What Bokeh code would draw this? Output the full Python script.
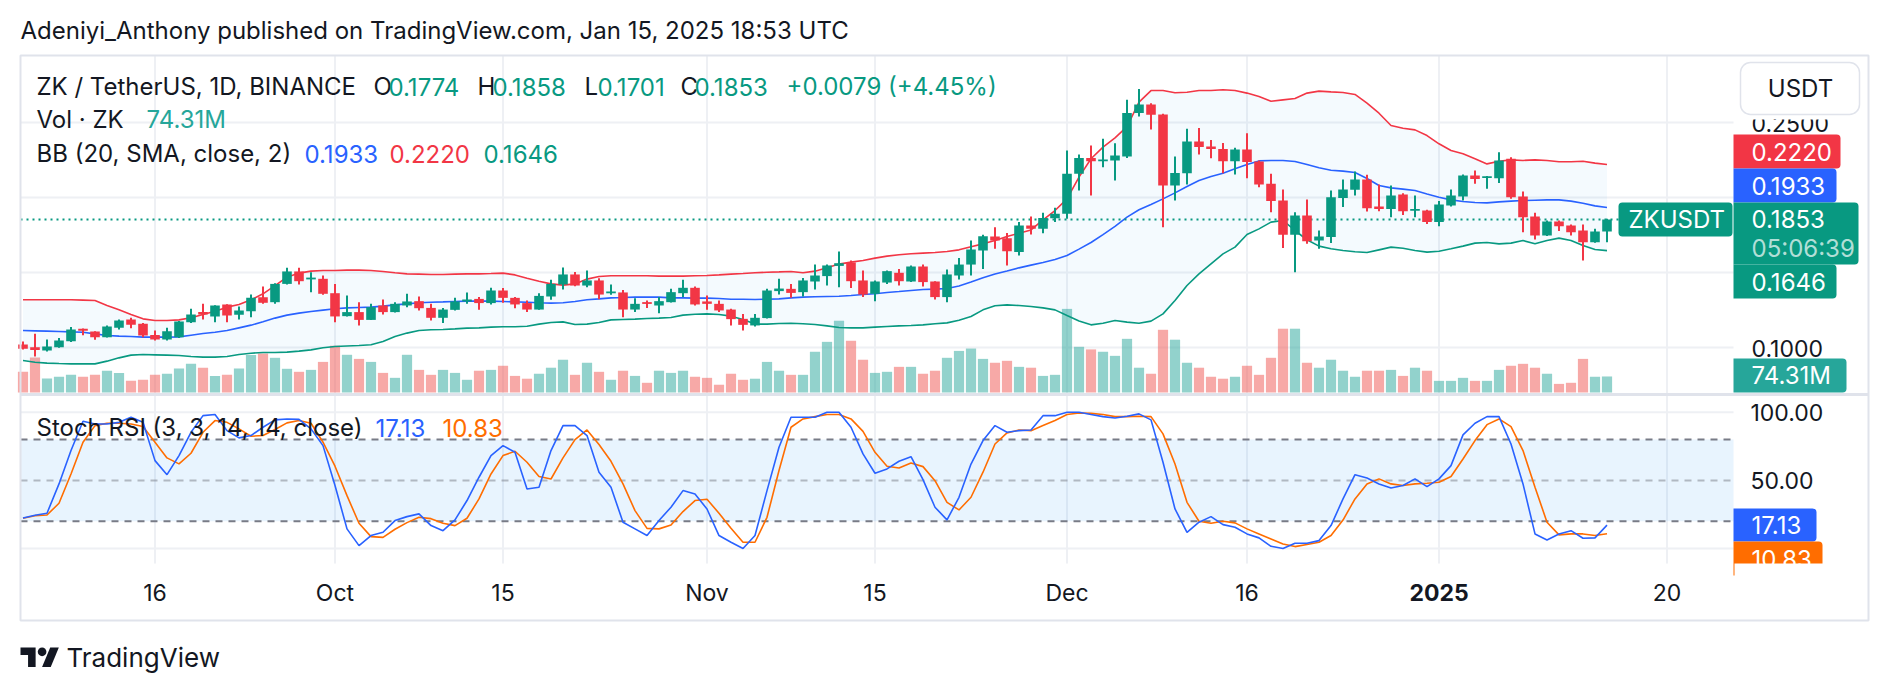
import numpy as np
import pandas as pd
from bokeh.plotting import figure
from bokeh.models import Range1d
from bokeh.core.properties import value
from bokeh.embed import file_html
from bokeh.resources import INLINE

# ---------------- data ----------------
dates = pd.date_range("2024-09-05", "2025-01-15", freq="D")

opens = [0.1020, 0.1002, 0.0980, 0.1002, 0.1042, 0.1124, 0.1107, 0.1069, 0.1131, 0.1187,
         0.1158, 0.1084, 0.1053, 0.1069, 0.1169, 0.1236, 0.1207, 0.1287, 0.1218, 0.1242,
         0.1335, 0.1302, 0.1424, 0.1507, 0.1456, 0.1458, 0.1362, 0.1209, 0.1236, 0.1184,
         0.1280, 0.1236, 0.1280, 0.1309, 0.1264, 0.1198, 0.1251, 0.1307, 0.1324, 0.1296,
         0.1380, 0.1331, 0.1296, 0.1253, 0.1340, 0.1420, 0.1487, 0.1413, 0.1447, 0.1362,
         0.1367, 0.1253, 0.1302, 0.1280, 0.1302, 0.1362, 0.1398, 0.1307, 0.1291, 0.1253,
         0.1191, 0.1147, 0.1196, 0.1376, 0.1391, 0.1369, 0.1440, 0.1476, 0.1544, 0.1567,
         0.1447, 0.1358, 0.1433, 0.1498, 0.1440, 0.1540, 0.1440, 0.1336, 0.1480, 0.1553,
         0.1647, 0.1740, 0.1729, 0.1636, 0.1813, 0.1791, 0.1862, 0.1891, 0.2158, 0.2264,
         0.2242, 0.2247, 0.2273, 0.2564, 0.2620, 0.2553, 0.2080, 0.2162, 0.2373, 0.2340,
         0.2324, 0.2242, 0.2320, 0.2240, 0.2091, 0.1980, 0.1751, 0.1880, 0.1713, 0.1736,
         0.1996, 0.2051, 0.2120, 0.1940, 0.1924, 0.2020, 0.1913, 0.1913, 0.1836, 0.1947,
         0.2007, 0.2147, 0.2131, 0.2129, 0.2258, 0.2007, 0.1873, 0.1747, 0.1840, 0.1813,
         0.1780, 0.1702, 0.1774]

highs = [0.1040, 0.1091, 0.1053, 0.1063, 0.1136, 0.1127, 0.1109, 0.1147, 0.1187, 0.1198,
         0.1164, 0.1113, 0.1131, 0.1176, 0.1258, 0.1291, 0.1282, 0.1289, 0.1273, 0.1353,
         0.1407, 0.1429, 0.1531, 0.1531, 0.1502, 0.1480, 0.1424, 0.1347, 0.1302, 0.1291,
         0.1320, 0.1302, 0.1358, 0.1340, 0.1291, 0.1264, 0.1331, 0.1367, 0.1336, 0.1398,
         0.1396, 0.1336, 0.1313, 0.1362, 0.1451, 0.1533, 0.1504, 0.1513, 0.1462, 0.1420,
         0.1384, 0.1329, 0.1313, 0.1336, 0.1391, 0.1451, 0.1407, 0.1347, 0.1313, 0.1258,
         0.1224, 0.1224, 0.1391, 0.1458, 0.1424, 0.1464, 0.1553, 0.1553, 0.1640, 0.1580,
         0.1513, 0.1447, 0.1513, 0.1524, 0.1547, 0.1553, 0.1442, 0.1520, 0.1596, 0.1713,
         0.1751, 0.1802, 0.1764, 0.1836, 0.1873, 0.1898, 0.1931, 0.2313, 0.2287, 0.2347,
         0.2391, 0.2362, 0.2651, 0.2724, 0.2629, 0.2558, 0.2273, 0.2458, 0.2464, 0.2384,
         0.2364, 0.2331, 0.2429, 0.2247, 0.2158, 0.2053, 0.1902, 0.1987, 0.1780, 0.2047,
         0.2120, 0.2173, 0.2151, 0.2087, 0.2080, 0.2029, 0.2013, 0.1918, 0.1976, 0.2053,
         0.2153, 0.2180, 0.2144, 0.2302, 0.2269, 0.2040, 0.1898, 0.1847, 0.1847, 0.1820,
         0.1820, 0.1791, 0.1858]

lows = [0.0987, 0.0940, 0.0973, 0.0998, 0.1036, 0.1082, 0.1051, 0.1067, 0.1120, 0.1129,
        0.1069, 0.1047, 0.1047, 0.1064, 0.1164, 0.1187, 0.1169, 0.1169, 0.1187, 0.1202,
        0.1291, 0.1291, 0.1420, 0.1420, 0.1369, 0.1351, 0.1169, 0.1207, 0.1147, 0.1184,
        0.1220, 0.1233, 0.1269, 0.1247, 0.1180, 0.1164, 0.1247, 0.1291, 0.1251, 0.1287,
        0.1298, 0.1262, 0.1236, 0.1251, 0.1318, 0.1387, 0.1409, 0.1402, 0.1322, 0.1351,
        0.1202, 0.1236, 0.1264, 0.1229, 0.1300, 0.1336, 0.1280, 0.1251, 0.1236, 0.1147,
        0.1113, 0.1140, 0.1193, 0.1353, 0.1331, 0.1340, 0.1387, 0.1413, 0.1402, 0.1396,
        0.1336, 0.1309, 0.1424, 0.1413, 0.1436, 0.1407, 0.1320, 0.1302, 0.1453, 0.1480,
        0.1524, 0.1658, 0.1547, 0.1613, 0.1753, 0.1762, 0.1836, 0.1858, 0.2047, 0.2013,
        0.2202, 0.2113, 0.2264, 0.2540, 0.2453, 0.1802, 0.1980, 0.2087, 0.2287, 0.2262,
        0.2162, 0.2153, 0.2129, 0.2069, 0.1902, 0.1664, 0.1502, 0.1691, 0.1658, 0.1696,
        0.1936, 0.2013, 0.1907, 0.1909, 0.1869, 0.1884, 0.1869, 0.1824, 0.1809, 0.1940,
        0.1980, 0.2091, 0.2058, 0.2096, 0.1991, 0.1769, 0.1720, 0.1744, 0.1776, 0.1747,
        0.1580, 0.1698, 0.1701]

closes = [0.0991, 0.0984, 0.1007, 0.1047, 0.1120, 0.1113, 0.1069, 0.1140, 0.1180, 0.1151,
          0.1080, 0.1053, 0.1109, 0.1173, 0.1220, 0.1220, 0.1280, 0.1213, 0.1247, 0.1331,
          0.1298, 0.1424, 0.1507, 0.1442, 0.1464, 0.1358, 0.1207, 0.1236, 0.1184, 0.1269,
          0.1236, 0.1291, 0.1307, 0.1262, 0.1198, 0.1253, 0.1307, 0.1320, 0.1296, 0.1380,
          0.1331, 0.1287, 0.1253, 0.1344, 0.1424, 0.1487, 0.1413, 0.1447, 0.1353, 0.1373,
          0.1253, 0.1291, 0.1291, 0.1309, 0.1369, 0.1398, 0.1287, 0.1291, 0.1247, 0.1189,
          0.1151, 0.1198, 0.1380, 0.1393, 0.1364, 0.1447, 0.1480, 0.1547, 0.1562, 0.1442,
          0.1353, 0.1440, 0.1509, 0.1442, 0.1540, 0.1436, 0.1336, 0.1487, 0.1553, 0.1653,
          0.1742, 0.1713, 0.1642, 0.1813, 0.1791, 0.1864, 0.1891, 0.2158, 0.2264, 0.2242,
          0.2253, 0.2280, 0.2564, 0.2620, 0.2551, 0.2080, 0.2164, 0.2373, 0.2336, 0.2324,
          0.2242, 0.2320, 0.2236, 0.2087, 0.1976, 0.1751, 0.1880, 0.1709, 0.1740, 0.2002,
          0.2053, 0.2120, 0.1929, 0.1924, 0.2013, 0.1909, 0.1922, 0.1836, 0.1953, 0.2013,
          0.2147, 0.2124, 0.2140, 0.2247, 0.2002, 0.1869, 0.1747, 0.1840, 0.1809, 0.1769,
          0.1702, 0.1774, 0.1853]

volume_m = [96, 162, 65, 73, 82, 73, 82, 101, 91, 54,
            59, 82, 87, 111, 133, 115, 77, 82, 111, 174,
            181, 161, 110, 96, 105, 142, 217, 175, 156, 142,
            91, 68, 175, 105, 82, 105, 91, 59, 101, 105,
            124, 77, 64, 87, 115, 152, 82, 138, 96, 59,
            101, 77, 45, 101, 91, 101, 73, 68, 36, 87,
            59, 64, 142, 101, 82, 82, 189, 235, 333, 240,
            152, 91, 96, 119, 119, 87, 101, 161, 193, 204,
            156, 138, 147, 119, 115, 77, 82, 388, 212, 200,
            189, 170, 249, 115, 87, 291, 245, 138, 115, 73,
            64, 73, 124, 82, 161, 296, 296, 138, 115, 152,
            101, 73, 101, 101, 105, 77, 115, 101, 54, 54,
            68, 54, 54, 105, 124, 133, 115, 87, 40, 45,
            156, 73, 74.31]

bb_upper = [0.1318, 0.1318, 0.1318, 0.1318, 0.1318, 0.1316, 0.1313, 0.1280, 0.1251, 0.1220,
            0.1191, 0.1180, 0.1180, 0.1184, 0.1198, 0.1220, 0.1242, 0.1269, 0.1287, 0.1318,
            0.1358, 0.1413, 0.1469, 0.1496, 0.1509, 0.1513, 0.1513, 0.1516, 0.1516, 0.1513,
            0.1507, 0.1498, 0.1491, 0.1489, 0.1487, 0.1487, 0.1489, 0.1491, 0.1491, 0.1493,
            0.1496, 0.1484, 0.1462, 0.1442, 0.1424, 0.1416, 0.1424, 0.1456, 0.1473, 0.1478,
            0.1478, 0.1478, 0.1478, 0.1476, 0.1476, 0.1476, 0.1478, 0.1480, 0.1484, 0.1489,
            0.1493, 0.1498, 0.1502, 0.1504, 0.1507, 0.1498, 0.1509, 0.1531, 0.1556, 0.1569,
            0.1580, 0.1596, 0.1609, 0.1618, 0.1625, 0.1629, 0.1633, 0.1640, 0.1651, 0.1672,
            0.1691, 0.1713, 0.1740, 0.1762, 0.1784, 0.1851, 0.1913, 0.1991, 0.2136, 0.2258,
            0.2336, 0.2398, 0.2473, 0.2636, 0.2713, 0.2713, 0.2698, 0.2702, 0.2713, 0.2713,
            0.2718, 0.2713, 0.2696, 0.2673, 0.2642, 0.2651, 0.2660, 0.2696, 0.2709, 0.2704,
            0.2700, 0.2687, 0.2629, 0.2562, 0.2480, 0.2462, 0.2451, 0.2413, 0.2358, 0.2313,
            0.2291, 0.2258, 0.2224, 0.2242, 0.2251, 0.2247, 0.2251, 0.2247, 0.2238, 0.2238,
            0.2242, 0.2229, 0.2220]

bb_basis = [0.1113, 0.1111, 0.1109, 0.1107, 0.1104, 0.1102, 0.1091, 0.1080, 0.1076, 0.1073,
            0.1069, 0.1069, 0.1069, 0.1071, 0.1082, 0.1093, 0.1102, 0.1113, 0.1131, 0.1149,
            0.1171, 0.1196, 0.1216, 0.1229, 0.1240, 0.1249, 0.1258, 0.1264, 0.1267, 0.1269,
            0.1276, 0.1284, 0.1291, 0.1298, 0.1302, 0.1304, 0.1307, 0.1309, 0.1309, 0.1309,
            0.1307, 0.1304, 0.1302, 0.1298, 0.1296, 0.1298, 0.1307, 0.1318, 0.1324, 0.1331,
            0.1333, 0.1336, 0.1336, 0.1336, 0.1331, 0.1331, 0.1329, 0.1329, 0.1327, 0.1322,
            0.1322, 0.1320, 0.1322, 0.1324, 0.1331, 0.1336, 0.1338, 0.1340, 0.1342, 0.1347,
            0.1353, 0.1358, 0.1367, 0.1373, 0.1380, 0.1387, 0.1389, 0.1393, 0.1410, 0.1436,
            0.1465, 0.1490, 0.1510, 0.1531, 0.1549, 0.1567, 0.1587, 0.1613, 0.1656, 0.1700,
            0.1753, 0.1807, 0.1869, 0.1918, 0.1953, 0.1991, 0.2031, 0.2073, 0.2113, 0.2140,
            0.2162, 0.2191, 0.2220, 0.2244, 0.2247, 0.2247, 0.2240, 0.2220, 0.2198, 0.2182,
            0.2176, 0.2167, 0.2127, 0.2080, 0.2064, 0.2056, 0.2047, 0.2024, 0.2002, 0.1984,
            0.1973, 0.1967, 0.1964, 0.1971, 0.1976, 0.1980, 0.1982, 0.1984, 0.1984, 0.1976,
            0.1962, 0.1944, 0.1933]

bb_lower = [0.0913, 0.0902, 0.0896, 0.0893, 0.0891, 0.0891, 0.0891, 0.0909, 0.0931, 0.0949,
            0.0953, 0.0951, 0.0949, 0.0947, 0.0940, 0.0936, 0.0936, 0.0940, 0.0953, 0.0962,
            0.0967, 0.0967, 0.0969, 0.0976, 0.0984, 0.0998, 0.1007, 0.1010, 0.1013, 0.1018,
            0.1040, 0.1073, 0.1096, 0.1113, 0.1118, 0.1120, 0.1124, 0.1129, 0.1131, 0.1136,
            0.1138, 0.1138, 0.1142, 0.1156, 0.1167, 0.1171, 0.1153, 0.1156, 0.1167, 0.1184,
            0.1187, 0.1189, 0.1193, 0.1196, 0.1200, 0.1216, 0.1222, 0.1224, 0.1220, 0.1209,
            0.1187, 0.1156, 0.1156, 0.1160, 0.1162, 0.1158, 0.1153, 0.1144, 0.1133, 0.1131,
            0.1131, 0.1136, 0.1140, 0.1144, 0.1147, 0.1151, 0.1158, 0.1164, 0.1182, 0.1207,
            0.1251, 0.1278, 0.1284, 0.1280, 0.1273, 0.1264, 0.1251, 0.1213, 0.1176, 0.1151,
            0.1162, 0.1180, 0.1169, 0.1162, 0.1176, 0.1224, 0.1313, 0.1413, 0.1491, 0.1558,
            0.1624, 0.1669, 0.1753, 0.1791, 0.1836, 0.1847, 0.1780, 0.1718, 0.1676, 0.1658,
            0.1647, 0.1638, 0.1633, 0.1651, 0.1669, 0.1662, 0.1647, 0.1636, 0.1642, 0.1658,
            0.1676, 0.1696, 0.1700, 0.1691, 0.1696, 0.1713, 0.1691, 0.1713, 0.1729, 0.1713,
            0.1680, 0.1653, 0.1646]

stoch_k = [22.4, 24.4, 25.9, 47.4, 71.9, 93.4, 91.4, 91.4, 92.6, 96.3,
           92.6, 64.5, 54.2, 68.2, 85.3, 97.5, 98.3, 86.5, 81.2, 82.9,
           89.0, 94.4, 95.1, 94.8, 87.8, 75.5, 46.2, 14.4, 2.1, 9.5,
           11.9, 20.5, 23.4, 25.4, 16.8, 13.1, 21.0, 35.2, 52.3, 68.2,
           75.5, 70.6, 43.7, 44.9, 71.9, 90.2, 90.2, 82.9, 56.0, 45.0,
           19.3, 14.4, 9.5, 20.5, 30.3, 42.5, 40.0, 29.0, 9.5, 4.6,
           0.0, 9.5, 42.5, 74.3, 96.3, 96.3, 96.3, 100.0, 100.0, 89.0,
           69.4, 55.2, 58.4, 64.0, 67.4, 50.6, 30.3, 21.0, 37.6, 62.0,
           79.2, 90.2, 85.3, 86.5, 87.0, 97.5, 97.5, 100.0, 100.0, 98.3,
           96.8, 95.8, 97.1, 98.8, 94.4, 63.3, 29.0, 11.9, 19.3, 23.4,
           17.5, 15.6, 10.7, 7.8, 1.6, 0.0, 3.8, 3.8, 5.8, 16.8,
           36.4, 54.2, 51.8, 47.4, 44.4, 46.2, 51.1, 45.4, 51.1, 60.8,
           83.4, 91.9, 96.8, 96.8, 76.7, 47.4, 10.7, 6.3, 10.7, 13.1,
           7.5, 7.8, 17.13]

stoch_d = [22.2, 24.1, 24.6, 33.2, 54.7, 78.0, 90.2, 91.9, 91.9, 91.4,
           89.5, 78.0, 66.5, 62.1, 69.9, 85.3, 93.9, 92.6, 87.8, 82.4,
           82.9, 87.3, 92.2, 93.9, 91.9, 78.0, 60.4, 38.8, 18.5, 8.7,
           8.2, 14.1, 19.0, 22.9, 21.9, 18.5, 16.8, 22.2, 36.4, 54.7,
           68.2, 71.4, 63.3, 52.8, 51.0, 66.5, 79.9, 87.0, 76.3, 64.0,
           47.4, 27.8, 14.8, 14.4, 17.3, 27.1, 35.2, 36.1, 25.9, 14.8,
           4.6, 4.6, 22.9, 57.2, 89.0, 95.1, 96.8, 98.3, 98.3, 95.1,
           86.0, 70.6, 60.4, 59.1, 62.8, 60.1, 49.8, 33.9, 28.3, 37.6,
           56.0, 76.7, 84.8, 87.0, 86.5, 90.2, 93.9, 98.3, 99.5, 99.2,
           98.3, 96.8, 96.8, 97.1, 96.8, 84.1, 62.0, 33.9, 20.0, 18.5,
           20.0, 18.8, 14.4, 10.7, 7.0, 3.3, 1.4, 2.9, 4.6, 9.5,
           20.9, 36.4, 47.4, 51.1, 47.4, 46.2, 47.4, 47.9, 48.6, 52.8,
           65.7, 79.2, 90.9, 95.1, 89.5, 71.9, 45.0, 19.3, 10.0, 10.7,
           10.7, 9.5, 10.83]

tick_dates = ["2024-09-16", "2024-10-01", "2024-10-15", "2024-11-01", "2024-11-15",
              "2024-12-01", "2024-12-16", "2025-01-01", "2025-01-20"]
tick_labels = ["16", "Oct", "15", "Nov", "15", "Dec", "16", "2025", "20"]
price_grid = [0.10, 0.15, 0.20, 0.25]
price_labels = [0.10, 0.25]          # 0.15 / 0.20 are hidden behind the price tags
stoch_grid = [0, 100]
stoch_labels = [100, 50]
stoch_levels = [80, 50, 20]
countdown = "05:06:39"

for arr in (opens, highs, lows, closes, volume_m, bb_upper, bb_basis, bb_lower, stoch_k, stoch_d):
    assert len(arr) == len(dates)

# ---------------- layout / style ----------------
W, H = 1888, 690
FONT = "Inter"
TXT = "#131722"
UP, DOWN = "#089981", "#f23645"
BLUE, ORANGE = "#2962ff", "#ff6d00"
GRID = "#eef0f4"
BORDER = "#e0e3eb"

PANE_L, PANE_R, BOX_R = 20, 1733, 1868
BOX_T, SEP_Y, STOCH_B, BOX_B = 55, 394, 563, 620
X0PX, DAYPX = 22.5, 12.0
P_REF, P_REF_PX, P_PX = 0.25, 122.0, 1500.0
V_ZERO_PX, V_PER_PX = 392.0, 4.64
S_ZERO_PX, S_PX = 548.0, 1.3625


def xd(px):
    return (px - X0PX) / DAYPX


def yp(py):
    return P_REF - (py - P_REF_PX) / P_PX


def ypx(price):
    return P_REF_PX + (P_REF - price) * P_PX


p = figure(width=W, height=H, title=None,
           x_range=Range1d(xd(0), xd(W)), y_range=Range1d(yp(H), yp(0)),
           x_axis_type=None, y_axis_type=None, toolbar_location=None,
           output_backend="svg", min_border=0, outline_line_color=None,
           background_fill_color="white", border_fill_color="white")
p.extra_y_ranges = {
    "vol": Range1d(-(H - V_ZERO_PX) * V_PER_PX, V_ZERO_PX * V_PER_PX),
    "stoch": Range1d(-(H - S_ZERO_PX) / S_PX, S_ZERO_PX / S_PX),
}

x = np.array([(d - dates[0]).days for d in dates], dtype=float)
o = np.array(opens); h = np.array(highs); l = np.array(lows); c = np.array(closes)
inc = c >= o
col = np.where(inc, UP, DOWN)
vcol = np.where(inc, "#26a69a", "#ef5350")
tx = [(pd.Timestamp(d) - dates[0]).days for d in tick_dates]


def txt(px, py, s, color=TXT, size=24, align="left", style="normal", alpha=1.0):
    p.text(x=[xd(px)], y=[yp(py)], text=[s], text_color=color, text_alpha=alpha,
           text_font=value(FONT), text_font_size=f"{size}px", text_font_style=style,
           text_align=align, text_baseline="middle")


def box(x0, y0, x1, y1, fill, line=None, radius=0, lw=1):
    p.quad(left=[xd(x0)], right=[xd(x1)], top=[yp(y0)], bottom=[yp(y1)],
           fill_color=fill, line_color=line, line_width=lw, border_radius=radius)


# ---------------- grids ----------------
p.segment(x0=tx, x1=tx, y0=[yp(BOX_T)] * len(tx), y1=[yp(STOCH_B)] * len(tx),
          line_color=GRID, line_width=2)
p.segment(x0=[xd(PANE_L)] * 4, x1=[xd(PANE_R)] * 4, y0=price_grid, y1=price_grid,
          line_color=GRID, line_width=2)
p.segment(x0=[xd(PANE_L)] * 2, x1=[xd(PANE_R)] * 2, y0=stoch_grid, y1=stoch_grid,
          line_color=GRID, line_width=2, y_range_name="stoch")

# ---------------- stoch band ----------------
p.quad(left=[xd(PANE_L)], right=[xd(PANE_R)], bottom=[stoch_levels[2]], top=[stoch_levels[0]],
       fill_color="#2196f3", fill_alpha=0.10, line_color=None, y_range_name="stoch")
for lev, a in zip(stoch_levels, (1.0, 0.5, 1.0)):
    p.segment(x0=[xd(PANE_L)], x1=[xd(PANE_R)], y0=[lev], y1=[lev], line_color="#787b86",
              line_alpha=a, line_width=2, line_dash="7 6", y_range_name="stoch")

# ---------------- volume ----------------
p.vbar(x=x, top=volume_m, bottom=0, width=0.85, fill_color=vcol, fill_alpha=0.5,
       line_color=None, y_range_name="vol")

# ---------------- bollinger ----------------
p.varea(x=x, y1=bb_lower, y2=bb_upper, fill_color="#2196f3", fill_alpha=0.05)
p.line(x, bb_upper, line_color=DOWN, line_width=1.6)
p.line(x, bb_basis, line_color=BLUE, line_width=1.6)
p.line(x, bb_lower, line_color=UP, line_width=1.6)

# last price line
p.segment(x0=[xd(PANE_L)], x1=[xd(1618)], y0=[closes[-1]], y1=[closes[-1]],
          line_color=UP, line_width=2, line_dash="2 4")

# ---------------- candles ----------------
top = np.maximum(o, c); bot = np.minimum(o, c)
mid = (top + bot) / 2
thin = (top - bot) < 0.0012
top = np.where(thin, mid + 0.0006, top)
bot = np.where(thin, mid - 0.0006, bot)
p.segment(x0=x, x1=x, y0=l, y1=h, line_color=col, line_width=2)
p.vbar(x=x, top=top, bottom=bot, width=0.8, fill_color=col, line_color=None)

# ---------------- stoch lines ----------------
p.line(x, stoch_d, line_color=ORANGE, line_width=1.6, y_range_name="stoch")
p.line(x, stoch_k, line_color=BLUE, line_width=1.6, y_range_name="stoch")

# ---------------- frame ----------------
p.quad(left=[xd(PANE_L)], right=[xd(BOX_R)], top=[yp(BOX_T)], bottom=[yp(BOX_B)],
       fill_color=None, line_color=BORDER, line_width=2)
p.segment(x0=[xd(PANE_L)], x1=[xd(BOX_R)], y0=[yp(SEP_Y)], y1=[yp(SEP_Y)],
          line_color=BORDER, line_width=3)

# ---------------- header / legends ----------------
txt(20, 30, "Adeniyi_Anthony published on TradingView.com, Jan 15, 2025 18:53 UTC", size=24)

chg = closes[-1] - closes[-2]
pct = chg / closes[-2] * 100
txt(36, 86, "ZK / TetherUS, 1D, BINANCE")
txt(373, 86, "O"); txt(388, 86, f"{opens[-1]:.4f}", UP)
txt(477, 86, "H"); txt(492, 86, f"{highs[-1]:.4f}", UP)
txt(584, 86, "L"); txt(597, 86, f"{lows[-1]:.4f}", UP)
txt(680, 86, "C"); txt(694, 86, f"{closes[-1]:.4f}", UP)
txt(786, 86, f"{chg:+.4f} ({pct:+.2f}%)", UP)
txt(36, 119, "Vol · ZK"); txt(146, 119, f"{volume_m[-1]:.2f}M", "#26a69a")
txt(36, 153, "BB (20, SMA, close, 2)")
txt(304, 153, f"{bb_basis[-1]:.4f}", BLUE)
txt(389, 153, f"{bb_upper[-1]:.4f}", DOWN)
txt(483, 153, f"{bb_lower[-1]:.4f}", UP)

txt(36, 427, "Stoch RSI (3, 3, 14, 14, close)")
txt(375, 427, f"{stoch_k[-1]:.2f}", BLUE)
txt(442, 427, f"{stoch_d[-1]:.2f}", ORANGE)

# ---------------- price scale ----------------
for v in price_labels:
    txt(1751, ypx(v) + 1, f"{v:.4f}", size=23)
for v in stoch_labels:
    txt(1750, S_ZERO_PX - v * S_PX, f"{v:.2f}", size=23)

# USDT button (with the white strip beneath it that hides the top of 0.2500)
box(1734, 57, 1866, 119, "white")
box(1740, 62, 1859, 114, "white", line=BORDER, radius=10, lw=1.5)
txt(1800, 88, "USDT", align="center")

# price tags
box(1733, 134, 1840, 168, DOWN, radius=(0, 4, 4, 0))
txt(1751, 151, f"{bb_upper[-1]:.4f}", "white")
box(1733, 168, 1836, 202, BLUE, radius=(0, 4, 4, 0))
txt(1751, 185, f"{bb_basis[-1]:.4f}", "white")
box(1733, 202, 1858, 264, UP, radius=(0, 4, 4, 0))
txt(1751, 218, f"{closes[-1]:.4f}", "white")
txt(1751, 248, countdown, "white", alpha=0.7)
box(1733, 264, 1836, 298, UP, radius=(0, 4, 4, 0))
txt(1751, 281, f"{bb_lower[-1]:.4f}", "white")
box(1733, 358, 1846, 392, "#26a69a", radius=(0, 4, 4, 0))
txt(1751, 375, f"{volume_m[-1]:.2f}M", "white")
box(1618, 202, 1732, 236, UP, radius=4)
txt(1628, 219, "ZKUSDT", "white")

# stoch tags
box(1733, 508, 1816, 541, BLUE, radius=(0, 4, 4, 0))
txt(1751, 524, f"{stoch_k[-1]:.2f}", "white")
box(1733, 541, 1822, 575, ORANGE, radius=(0, 4, 4, 0))
txt(1751, 558, f"{stoch_d[-1]:.2f}", "white")
box(1734, STOCH_B, 1866, BOX_B - 2, "white")

# ---------------- time axis ----------------
for t, lab in zip(tx, tick_labels):
    p.text(x=[t], y=[yp(592)], text=[lab], text_color=TXT, text_font=value(FONT),
           text_font_size="23px", text_align="center", text_baseline="middle",
           text_font_style="bold" if lab == "2025" else "normal")

# ---------------- footer logo ----------------
s = 1.08
def lx(vx):
    return xd(20 + vx * s)
def ly(vy):
    return yp(647 + (vy - 4) * s)
p.patch([lx(v) for v in (0, 14, 14, 7, 7, 0)], [ly(v) for v in (4, 4, 22, 22, 11, 11)],
        fill_color=TXT, line_color=None)
p.patch([lx(v) for v in (20, 27.5, 35.5, 28)], [ly(v) for v in (22, 4, 4, 22)],
        fill_color=TXT, line_color=None)
p.scatter([lx(20)], [ly(8)], size=8 * s, fill_color=TXT, line_color=None)
txt(66, 657, "TradingView", size=26)

open("out.html", "w").write(file_html(p, INLINE))
